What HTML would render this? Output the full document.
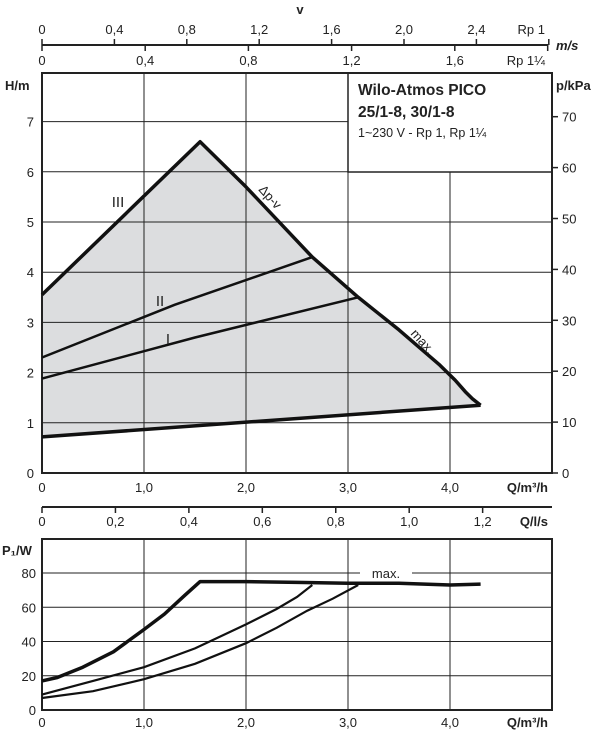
<!DOCTYPE html>
<html><head><meta charset="utf-8"><style>
html,body{margin:0;padding:0;background:#fff}
svg{display:block}
text{font-family:"Liberation Sans",sans-serif;fill:#222}
</style></head><body>
<svg id="c" width="600" height="734" viewBox="0 0 600 734" xmlns="http://www.w3.org/2000/svg"></svg>
<script>
// ---- data ----
const qTicks=[0,1,2,3,4];
const qTickLabels=["0","1,0","2,0","3,0","4,0"];
const hTicks=[0,1,2,3,4,5,6,7];
const kpaTicks=[0,10,20,30,40,50,60,70];
const lsTicks=[0,0.2,0.4,0.6,0.8,1.0,1.2];
const lsTickLabels=["0","0,2","0,4","0,6","0,8","1,0","1,2"];
const rp1Ticks=[0,0.4,0.8,1.2,1.6,2.0,2.4,2.8];
const rp1Labels=["0","0,4","0,8","1,2","1,6","2,0","2,4",""];
const rp114Ticks=[0,0.4,0.8,1.2,1.6,1.96];
const rp114Labels=["0","0,4","0,8","1,2","1,6",""];
const pTicks=[0,20,40,60,80];
// envelope (Q m3/h, H m)
const maxQ=[0,1.55,2.0,2.65,3.1,3.5,3.9,4.05,4.15,4.22,4.3];
const maxH=[3.55,6.6,5.7,4.3,3.5,2.85,2.15,1.85,1.62,1.48,1.35];
const minQ=[4.3,0];
const minH=[1.35,0.72];
const s2Q=[0,1.3,2.65];const s2H=[2.3,3.35,4.3];
const s1Q=[0,1.5,3.1];const s1H=[1.88,2.7,3.5];
// power P1 (W)
const pMaxQ=[0,0.15,0.4,0.7,1.0,1.2,1.4,1.55,2.0,2.5,3.0,3.5,4.0,4.3];
const pMaxP=[17,19,25,34,47,56,67,75,75,74.5,74,74,73,73.5];
const p2Q=[0,0.5,1.0,1.5,2.0,2.3,2.5,2.65];
const p2P=[9,17,25,36,50,59,66,73];
const p1Q=[0,0.5,1.0,1.5,2.0,2.3,2.6,2.85,3.1];
const p1P=[7,11,18,27,39,48,58,65,73];

const NS="http://www.w3.org/2000/svg";
const svg=document.getElementById('c');
const X=q=>42+q*102;
const Y=h=>473-h*50.2;
const YK=k=>473-k*5.09;
const PY=p=>710-p*1.7125;
const LS=l=>42+l*3.6*102;
const V1=v=>42+v*181;
const V2=v=>42+v*258;
function el(t,a,txt){const e=document.createElementNS(NS,t);for(const k in a)e.setAttribute(k,a[k]);if(txt!==undefined)e.textContent=txt;svg.appendChild(e);return e;}
function pts(qs,vs,fy){return qs.map((q,i)=>X(q).toFixed(1)+','+fy(vs[i]).toFixed(1)).join(' ');}

// top velocity axes
let e=el('line',{x1:42,y1:45,x2:548,y2:45,stroke:'#222','stroke-width':2});


rp1Ticks.forEach((v,i)=>{el('line',{x1:V1(v),y1:39,x2:V1(v),y2:45,stroke:'#222','stroke-width':1.5});
 if(rp1Labels[i]){const t=el('text',{x:V1(v),y:34,'font-size':13,'text-anchor':'middle'},rp1Labels[i]);}});
rp114Ticks.forEach((v,i)=>{el('line',{x1:V2(v),y1:45,x2:V2(v),y2:51,stroke:'#222','stroke-width':1.5});
 if(rp114Labels[i]){const t=el('text',{x:V2(v),y:65,'font-size':13,'text-anchor':'middle'},rp114Labels[i]);}});
e=el('text',{x:300,y:14,'font-size':13,'font-weight':'bold','text-anchor':'middle'},'v');
e=el('text',{x:545,y:34,'font-size':13,'text-anchor':'end'},'Rp 1');
e=el('text',{x:545,y:65,'font-size':13,'text-anchor':'end'},'Rp 1¼');
e=el('text',{x:556,y:50,'font-size':13,'font-weight':'bold','font-style':'italic'},'m/s');

// upper chart: fill
e=el('polygon',{points:pts(maxQ,maxH,Y)+' '+pts(minQ,minH,Y),fill:'#dcdddf',stroke:'none'});

// grid
qTicks.slice(1).forEach(q=>el('line',{x1:X(q),y1:73,x2:X(q),y2:473,stroke:'#222','stroke-width':1}));
hTicks.slice(1).forEach(h=>el('line',{x1:42,y1:Y(h),x2:(Y(h)<172?348:552),y2:Y(h),stroke:'#222','stroke-width':1}));
// legend box
e=el('rect',{x:348,y:73,width:204,height:99,fill:'#fff',stroke:'#222','stroke-width':1.5});

e=el('text',{x:358,y:95,'font-size':15.5,'font-weight':'bold'},'Wilo-Atmos PICO');
e=el('text',{x:358,y:117,'font-size':15.5,'font-weight':'bold'},'25/1-8, 30/1-8');
e=el('text',{x:358,y:137,'font-size':12.5},'1~230 V - Rp 1, Rp 1¼');
// frame
e=el('rect',{x:42,y:73,width:510,height:400,fill:'none',stroke:'#222','stroke-width':2});

// curves
e=el('polyline',{points:pts(maxQ,maxH,Y),fill:'none',stroke:'#111','stroke-width':3.5,'stroke-linejoin':'round'});
e=el('polyline',{points:pts(minQ,minH,Y),fill:'none',stroke:'#111','stroke-width':3.5});
e=el('polyline',{points:pts(s2Q,s2H,Y),fill:'none',stroke:'#111','stroke-width':2.5});
e=el('polyline',{points:pts(s1Q,s1H,Y),fill:'none',stroke:'#111','stroke-width':2.5});
[['III',118,207,'label-iii'],['II',160,306,'label-ii'],['I',168,344,'label-i']].forEach(a=>{const t=el('text',{x:a[1],y:a[2],'font-size':15,'text-anchor':'middle'},a[0]);});
e=el('text',{x:0,y:0,'font-size':13,transform:'translate(258,190) rotate(48)'},'Δp-v');
e=el('text',{x:0,y:0,'font-size':13,transform:'translate(410,334) rotate(48)'},'max.');
// axes labels
hTicks.forEach(h=>{const t=el('text',{x:34,y:Y(h)+5,'font-size':13,'text-anchor':'end'},String(h));});
kpaTicks.forEach(k=>{el('line',{x1:552,y1:YK(k),x2:558,y2:YK(k),stroke:'#222','stroke-width':1.5});const t=el('text',{x:562,y:YK(k)+5,'font-size':13},String(k));});
e=el('text',{x:5,y:90,'font-size':13,'font-weight':'bold'},'H/m');
e=el('text',{x:556,y:90,'font-size':13,'font-weight':'bold'},'p/kPa');
qTicks.forEach((q,i)=>{const t=el('text',{x:X(q),y:492,'font-size':13,'text-anchor':'middle'},qTickLabels[i]);});
e=el('text',{x:548,y:492,'font-size':13,'font-weight':'bold','text-anchor':'end'},'Q/m³/h');
// l/s axis
el('line',{x1:42,y1:507,x2:552,y2:507,stroke:'#222','stroke-width':2});
lsTicks.forEach((l,i)=>{el('line',{x1:LS(l),y1:507,x2:LS(l),y2:513,stroke:'#222','stroke-width':1.5});const t=el('text',{x:LS(l),y:526,'font-size':13,'text-anchor':'middle'},lsTickLabels[i]);});
e=el('text',{x:548,y:526,'font-size':13,'font-weight':'bold','text-anchor':'end'},'Q/l/s');

// lower chart
qTicks.slice(1).forEach(q=>el('line',{x1:X(q),y1:539,x2:X(q),y2:710,stroke:'#222','stroke-width':1}));
pTicks.slice(1).forEach(p=>el('line',{x1:42,y1:PY(p),x2:552,y2:PY(p),stroke:'#222','stroke-width':1}));
e=el('rect',{x:360,y:565,width:52,height:14,fill:'#fff'});
e=el('text',{x:386,y:578,'font-size':13,'text-anchor':'middle'},'max.');
e=el('rect',{x:42,y:539,width:510,height:171,fill:'none',stroke:'#222','stroke-width':2});
e=el('polyline',{points:pts(pMaxQ,pMaxP,PY),fill:'none',stroke:'#111','stroke-width':3.5,'stroke-linejoin':'round'});
e=el('polyline',{points:pts(p2Q,p2P,PY),fill:'none',stroke:'#111','stroke-width':2.2});
e=el('polyline',{points:pts(p1Q,p1P,PY),fill:'none',stroke:'#111','stroke-width':2.2});
pTicks.forEach(p=>{const t=el('text',{x:36,y:PY(p)+5,'font-size':13,'text-anchor':'end'},String(p));});
e=el('text',{x:2,y:555,'font-size':13,'font-weight':'bold'},'P₁/W');
qTicks.forEach((q,i)=>{const t=el('text',{x:X(q),y:727,'font-size':13,'text-anchor':'middle'},qTickLabels[i]);});
e=el('text',{x:548,y:727,'font-size':13,'font-weight':'bold','text-anchor':'end'},'Q/m³/h');
</script>
</body></html>
